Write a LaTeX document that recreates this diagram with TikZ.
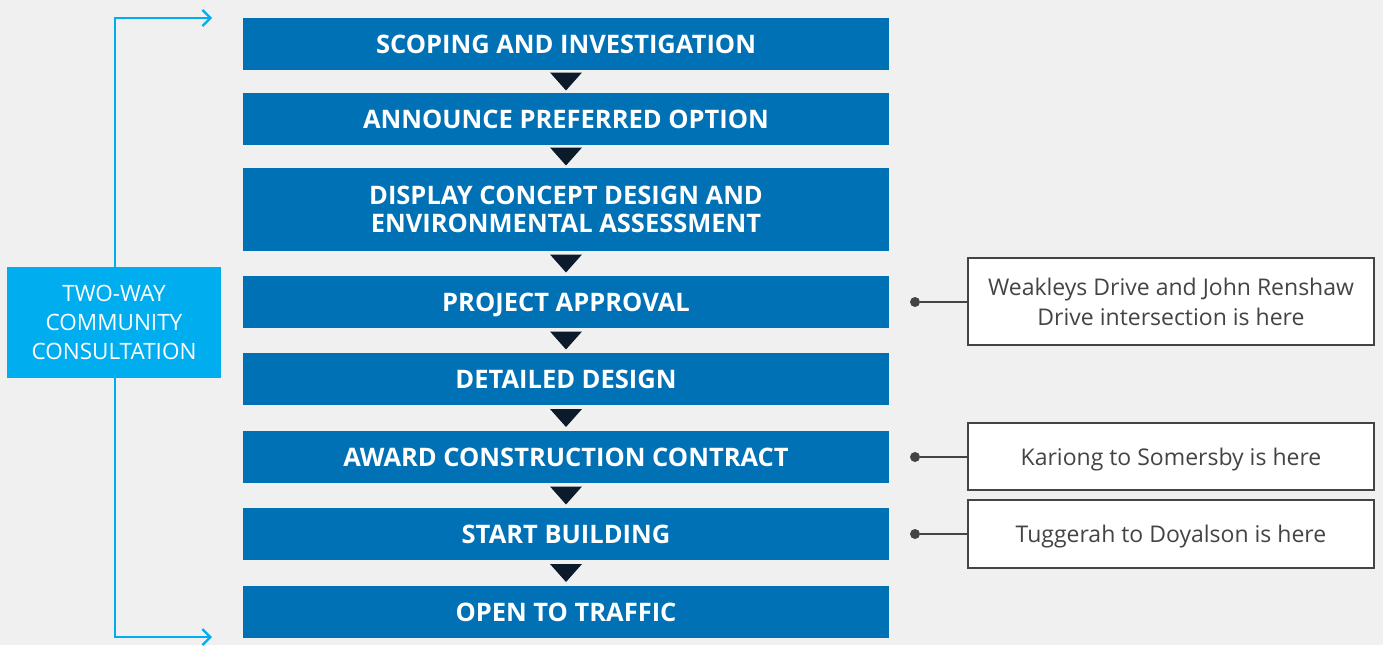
\documentclass[tikz,border=0pt]{standalone}
\usepackage{fontspec}
\setmainfont{Open Sans}
\usetikzlibrary{arrows.meta}
\definecolor{bg}{HTML}{F0F0F0}
\definecolor{stepblue}{HTML}{0071B5}
\definecolor{lightblue}{HTML}{00AEEF}
\definecolor{navy}{HTML}{0B1B2B}
\definecolor{graytxt}{HTML}{444444}
\tikzset{
  x=1pt, y=-1pt,
  stepbox/.style={fill=stepblue, text=white, minimum width=646pt, inner sep=0pt, align=center,
    text depth=-3pt, font=\fontsize{25.5}{28}\selectfont\bfseries},
  tri/.style={fill=navy, draw=none},
  note/.style={draw=graytxt, line width=2pt, fill=white, text=graytxt, minimum width=406pt, inner sep=0pt, align=center,
    text depth=0pt, font=\fontsize{23}{30}\selectfont},
  consult/.style={fill=lightblue, text=white, minimum width=214pt, minimum height=111pt, inner sep=0pt, align=center,
    text depth=-4pt, font=\fontsize{22.5}{29}\selectfont},
  bracket/.style={draw=lightblue, line width=2.3pt, -{Straight Barb[length=8pt,width=16pt,line width=2.3pt]}},
  pin/.style={draw=graytxt, line width=2pt},
  dot/.style={circle, fill=graytxt, minimum size=10pt, inner sep=0pt}
}
\begin{document}
\begin{tikzpicture}
\fill[bg] (0,0) rectangle (1383,645);
\useasboundingbox (0,0) rectangle (1383,645);
\node[stepbox, minimum height=52pt] (s1) at (566,44) {SCOPING AND INVESTIGATION};
\node[stepbox, minimum height=52pt] (s2) at (566,119) {ANNOUNCE PREFERRED OPTION};
\node[stepbox, minimum height=83pt] (s3) at (566,209.5) {DISPLAY CONCEPT DESIGN AND\\ENVIRONMENTAL ASSESSMENT};
\node[stepbox, minimum height=52pt] (s4) at (566,302) {PROJECT APPROVAL};
\node[stepbox, minimum height=52pt] (s5) at (566,379) {DETAILED DESIGN};
\node[stepbox, minimum height=52pt] (s6) at (566,457) {AWARD CONSTRUCTION CONTRACT};
\node[stepbox, minimum height=52pt] (s7) at (566,534) {START BUILDING};
\node[stepbox, minimum height=52pt] (s8) at (566,612) {OPEN TO TRAFFIC};
% triangles
\foreach \a/\b in {s1/s2,s2/s3,s3/s4,s4/s5,s5/s6,s6/s7,s7/s8}{
  \path (\a.south) -- (\b.north) coordinate[pos=0.5] (m);
  \fill[tri] ([shift={(-16,-9)}]m) -- ([shift={(16,-9)}]m) -- ([shift={(0,9)}]m) -- cycle;
}
% consultation
\node[consult] (c) at (114,322.5) {TWO-WAY\\COMMUNITY\\CONSULTATION};
\coordinate (ct) at (115,18);
\coordinate (cb) at (115,637);
\coordinate (at) at (212,18);
\coordinate (ab) at (212,637);
\draw[bracket] (c.north -| ct) -- (ct) -- (at);
\draw[bracket] (c.south -| cb) -- (cb) -- (ab);
% notes
\node[note, minimum height=87pt] (n1) at (1171,301.5) {Weakleys Drive and John Renshaw\\Drive intersection is here};
\node[note, minimum height=67pt] (n2) at (1171,456.5) {Kariong to Somersby is here};
\node[note, minimum height=68pt] (n3) at (1171,534) {Tuggerah to Doyalson is here};
\node[dot] (d1) at (915,302) {};
\node[dot] (d2) at (915,457) {};
\node[dot] (d3) at (915,534) {};
\draw[pin] (d1) -- (d1 -| n1.west);
\draw[pin] (d2) -- (d2 -| n2.west);
\draw[pin] (d3) -- (d3 -| n3.west);
\end{tikzpicture}
\end{document}
